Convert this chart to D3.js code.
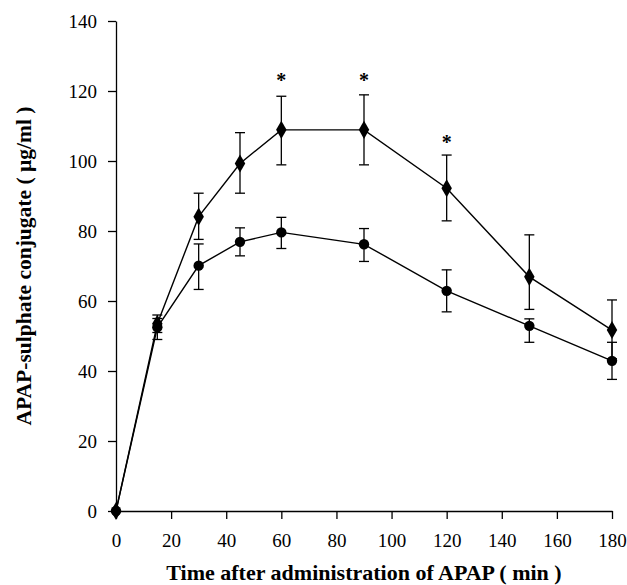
<!DOCTYPE html>
<html>
<head>
<meta charset="utf-8">
<script src="https://cdn.jsdelivr.net/npm/d3@7"></script>
<style>
  html, body { margin: 0; padding: 0; background: #fff; }
  svg { display: block; font-family: "Liberation Serif", "Times New Roman", serif; }
</style>
</head>
<body>
<div id="chart"></div>
<script>
// Time points (min)
const times = [0, 15, 30, 45, 60, 90, 120, 150, 180];

// Upper series (diamonds)
const diamondMean = [0, 53.5, 84.1, 99.3, 108.9, 108.9, 92.2, 66.9, 51.7];
const diamondHi   = [0, 56, 90.8, 108.1, 118.5, 118.9, 101.7, 78.9, 60.3];
const diamondLo   = [0, 51, 77.6, 90.8, 98.9, 98.9, 82.9, 57.6, 43.5];

// Lower series (circles)
const circleMean = [0, 52.5, 70.1, 76.9, 79.6, 76.2, 62.9, 52.9, 42.9];
const circleHi   = [0, 55, 76.3, 80.9, 83.9, 80.7, 68.9, 54.9, 48.2];
const circleLo   = [0, 49, 63.3, 72.9, 75, 71.3, 56.9, 48.2, 37.6];

// significance marks: time point -> y value of the asterisk
const starTimes = [60, 90, 120];
const starY = [123.6, 123.6, 106];

const xTicks = [0, 20, 40, 60, 80, 100, 120, 140, 160, 180];
const yTicks = [0, 20, 40, 60, 80, 100, 120, 140];

const width = 627, height = 585;
const margin = { left: 116, right: 15, top: 21, bottom: 74 };
const SERIF = '"Liberation Serif", "Times New Roman", serif';

const svg = d3.select('#chart').append('svg')
  .attr('width', width).attr('height', height);

const x = d3.scaleLinear().domain([0, 180]).range([margin.left, width - margin.right]);
const y = d3.scaleLinear().domain([0, 140]).range([height - margin.bottom, margin.top]);

// axis styling: serif labels, black strokes
function styleAxis(g) {
  g.attr('font-family', SERIF).attr('font-size', 19);
  g.selectAll('text').style('font-family', SERIF).style('font-size', '19px').attr('fill', '#000');
  g.selectAll('line, .domain').attr('stroke', '#000').attr('stroke-width', 1.3);
}

svg.append('g')
  .attr('transform', `translate(0,${y(0)})`)
  .call(d3.axisBottom(x).tickValues(xTicks).tickSize(8).tickSizeOuter(0).tickPadding(15))
  .call(styleAxis);

svg.append('g')
  .attr('transform', `translate(${x(0)},0)`)
  .call(d3.axisLeft(y).tickValues(yTicks).tickSize(8).tickSizeOuter(0).tickPadding(11))
  .call(styleAxis);

const series = [
  { mean: diamondMean, hi: diamondHi, lo: diamondLo, shape: d3.symbolDiamond, size: 95 },
  { mean: circleMean, hi: circleHi, lo: circleLo, shape: d3.symbolCircle, size: 85 },
];

const line = d3.line().x((d) => x(d.t)).y((d) => y(d.v));

series.forEach((s) => {
  const pts = times.map((t, i) => ({ t, v: s.mean[i], hi: s.hi[i], lo: s.lo[i] }));
  const g = svg.append('g');

  // error bars
  const eb = g.selectAll('g.eb').data(pts.filter((d) => d.hi > d.lo)).join('g');
  eb.append('line')
    .attr('x1', (d) => x(d.t)).attr('x2', (d) => x(d.t))
    .attr('y1', (d) => y(d.hi)).attr('y2', (d) => y(d.lo))
    .attr('stroke', '#000').attr('stroke-width', 1.3);
  eb.selectAll('line.cap').data((d) => [{ t: d.t, v: d.hi }, { t: d.t, v: d.lo }]).join('line')
    .attr('class', 'cap')
    .attr('x1', (d) => x(d.t) - 5).attr('x2', (d) => x(d.t) + 5)
    .attr('y1', (d) => y(d.v)).attr('y2', (d) => y(d.v))
    .attr('stroke', '#000').attr('stroke-width', 1.3);

  g.append('path').datum(pts)
    .attr('d', line)
    .attr('fill', 'none').attr('stroke', '#000').attr('stroke-width', 1.4);

  g.selectAll('path.pt').data(pts).join('path')
    .attr('class', 'pt')
    .attr('transform', (d) => `translate(${x(d.t)},${y(d.v)})`)
    .attr('d', d3.symbol(s.shape, s.size))
    .attr('fill', '#000');
});

svg.selectAll('text.star').data(starTimes).join('text')
  .attr('class', 'star')
  .attr('x', (d) => x(d)).attr('y', (d, i) => y(starY[i]) + 9)
  .attr('text-anchor', 'middle')
  .attr('font-size', 20).attr('font-weight', 'bold')
  .text('*');

svg.append('text')
  .attr('x', (x(0) + x(180)) / 2).attr('y', 580)
  .attr('text-anchor', 'middle')
  .attr('font-size', 22).attr('font-weight', 'bold')
  .text('Time after administration of APAP ( min )');

svg.append('text')
  .attr('transform', `translate(31,${(y(0) + y(140)) / 2}) rotate(-90)`)
  .attr('text-anchor', 'middle')
  .attr('font-size', 21.5).attr('font-weight', 'bold')
  .text('APAP-sulphate conjugate ( µg/ml )');
</script>
</body>
</html>
